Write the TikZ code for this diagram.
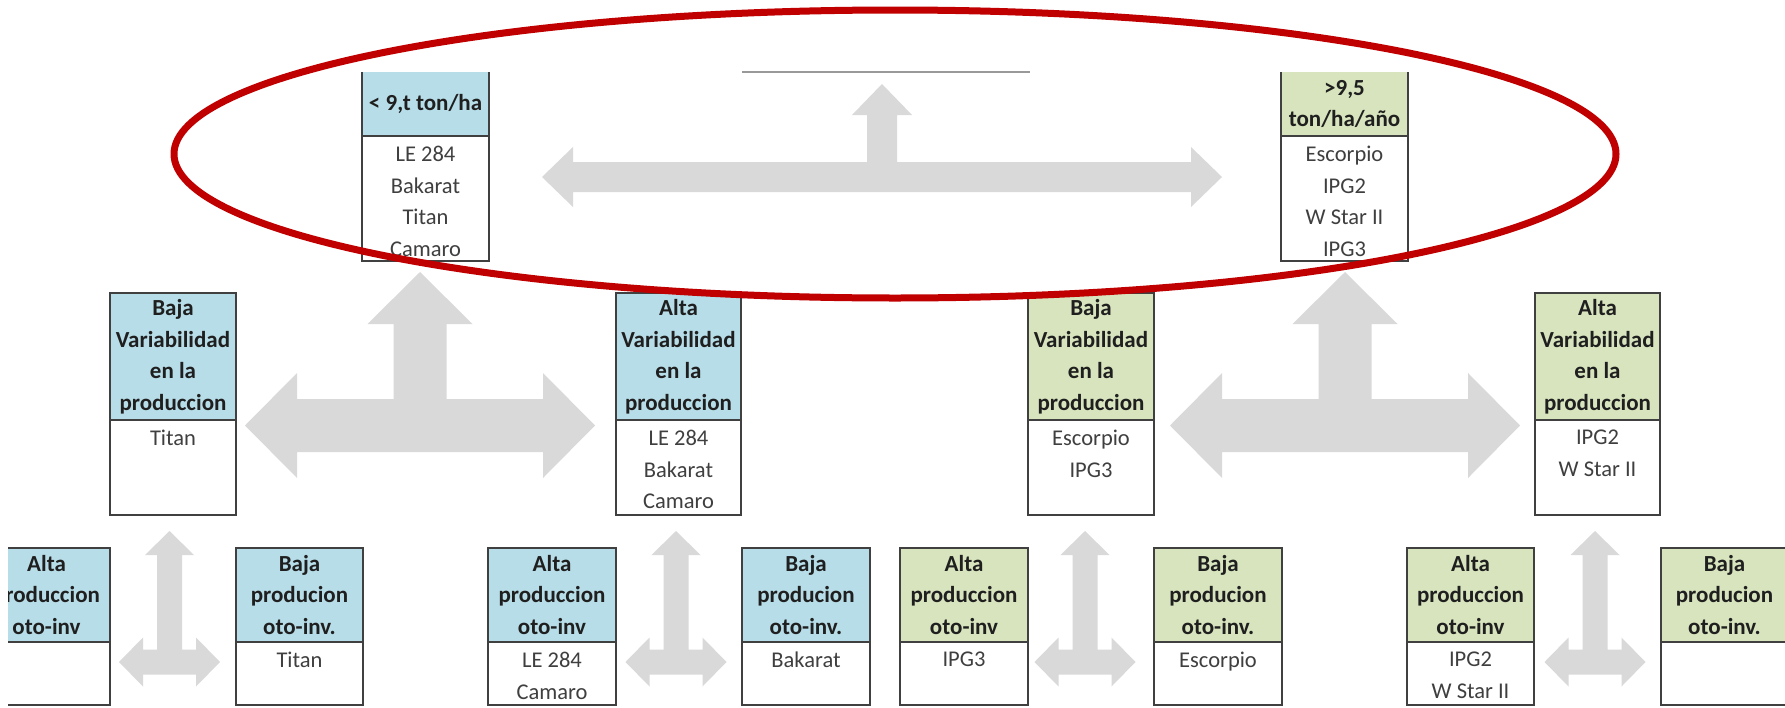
\documentclass[tikz,border=0pt]{standalone}
\usepackage{fontspec}
\setmainfont{Carlito}
\definecolor{hblue}{HTML}{B7DDE8}
\definecolor{hgreen}{HTML}{D7E4BD}
\definecolor{agray}{HTML}{D9D9D9}
\definecolor{ered}{HTML}{C00000}
\definecolor{bord}{HTML}{404040}
\definecolor{htxt}{HTML}{1F1F1F}
\definecolor{btxtc}{HTML}{3F3F3F}
\tikzset{
  hdrnode/.style={inner sep=0pt, outer sep=0pt, align=center, text=htxt,
    font=\fontsize{23}{31.5}\selectfont\bfseries},
  hbl/.style={fill=hblue, draw=bord, line width=1.8pt},
  hgr/.style={fill=hgreen, draw=bord, line width=1.8pt},
  hblt/.style={fill=hblue},
  hgrt/.style={fill=hgreen},
  bdynode/.style={inner sep=0pt, outer sep=0pt, draw=bord, line width=1.8pt, fill=white},
  bodytext/.style={inner sep=0pt, align=center, text=btxtc,
    font=\fontsize{22.5}{31.5}\selectfont},
  boxline/.style={draw=bord, line width=1.8pt},
  ringline/.style={draw=ered, line width=7pt, line join=round},
  topline/.style={draw=black!40, line width=1.5pt}
}
% name, xL, xR, yT, yM, yB, header style, header, body
\newcommand{\cbox}[9]{%
  \node[bdynode, minimum width={((#3)-(#2))*1pt}, minimum height={((#6)-(#5))*1pt}, anchor=north west] (#1b) at (#2,#5) {};
  \node[hdrnode, #7, minimum width={((#3)-(#2))*1pt}, minimum height={((#5)-(#4))*1pt}, anchor=north west] (#1h) at (#2,#4) {#8};
  \node[bodytext, anchor=north] (#1t) at ([yshift=-10pt]#1b.north) {#9};
}
% cx, cy, half span, half bar, half head, head length, y tip
\newcommand{\tarrow}[7]{%
  \fill[agray] ({#1-#3},#2) -- ({#1-#3+#6},{#2-#5}) -- ({#1-#3+#6},{#2-#4}) -- ({#1-#4},{#2-#4})
   -- ({#1-#4},{#7+#6}) -- ({#1-#5},{#7+#6}) -- (#1,#7) -- ({#1+#5},{#7+#6}) -- ({#1+#4},{#7+#6})
   -- ({#1+#4},{#2-#4}) -- ({#1+#3-#6},{#2-#4}) -- ({#1+#3-#6},{#2-#5}) -- ({#1+#3},#2)
   -- ({#1+#3-#6},{#2+#5}) -- ({#1+#3-#6},{#2+#4}) -- ({#1-#3+#6},{#2+#4}) -- ({#1-#3+#6},{#2+#5}) -- cycle;}
\begin{document}
\begin{tikzpicture}[x=1pt, y=-1pt]
\useasboundingbox (0,0) rectangle (1785,707);
\fill[white] (0,0) rectangle (1785,707);

% block arrows
\tarrow{882}{177}{340}{15}{30}{31}{84}
\tarrow{420}{425.5}{175}{26.5}{52.5}{52}{272}
\tarrow{1345}{425.5}{175}{26.5}{52.5}{52}{272}
\tarrow{169.5}{662}{50.5}{12.5}{24.5}{24}{531}
\tarrow{676}{662}{50.5}{12.5}{24.5}{24}{531}
\tarrow{1085}{662}{50.5}{12.5}{24.5}{24}{531}
\tarrow{1595}{662}{50.5}{12.5}{24.5}{24}{531}

% thin line at top
\coordinate (tlA) at (742,72);
\coordinate (tlB) at (1030,72);
\draw[topline] (tlA) -- (tlB);

% top boxes
\cbox{T1}{362}{489}{72}{136}{261}{hblt}{< 9,t ton/ha}{LE 284\\Bakarat\\Titan\\Camaro}
\draw[boxline] (T1h.north west) -- (T1h.south west) -- (T1h.south east) -- (T1h.north east);
\cbox{T2}{1281}{1408}{72}{136}{261}{hgrt}{>9,5\\ton/ha/año}{Escorpio\\IPG2\\W Star II\\IPG3}
\draw[boxline] (T2h.north west) -- (T2h.south west) -- (T2h.south east) -- (T2h.north east);

% middle boxes
\cbox{B1}{110}{236}{293}{420}{515}{hbl}{Baja\\Variabilidad\\en la\\produccion}{Titan}
\cbox{B2}{616}{741}{293}{420}{515}{hbl}{Alta\\Variabilidad\\en la\\produccion}{LE 284\\Bakarat\\Camaro}
\cbox{B3}{1028}{1154}{293}{420}{515}{hgr}{Baja\\Variabilidad\\en la\\produccion}{Escorpio\\IPG3}
\cbox{B4}{1535}{1660}{293}{420}{515}{hgr}{Alta\\Variabilidad\\en la\\produccion}{IPG2\\W Star II}

% bottom boxes
\begin{scope}
\clip (8,0) rectangle (1785,707);
\cbox{C1}{-17}{110}{548}{642}{705}{hbl}{Alta\\produccion\\oto-inv}{}
\end{scope}
\cbox{C2}{236}{363}{548}{642}{705}{hbl}{Baja\\producion\\oto-inv.}{Titan}
\cbox{C3}{488}{616}{548}{642}{705}{hbl}{Alta\\produccion\\oto-inv}{LE 284\\Camaro}
\cbox{C4}{742}{870}{548}{642}{705}{hbl}{Baja\\producion\\oto-inv.}{Bakarat}
\cbox{C5}{900}{1028}{548}{642}{705}{hgr}{Alta\\produccion\\oto-inv}{IPG3}
\cbox{C6}{1154}{1282}{548}{642}{705}{hgr}{Baja\\producion\\oto-inv.}{Escorpio}
\cbox{C7}{1407}{1534}{548}{642}{705}{hgr}{Alta\\produccion\\oto-inv}{IPG2\\W Star II}
\cbox{C8}{1661}{1788}{548}{642}{705}{hgr}{Baja\\producion\\oto-inv.}{}

% red ring
\coordinate (ringc) at (895,154);
\draw[ringline] (ringc) ellipse [x radius=721pt, y radius=144pt];
\end{tikzpicture}
\end{document}
